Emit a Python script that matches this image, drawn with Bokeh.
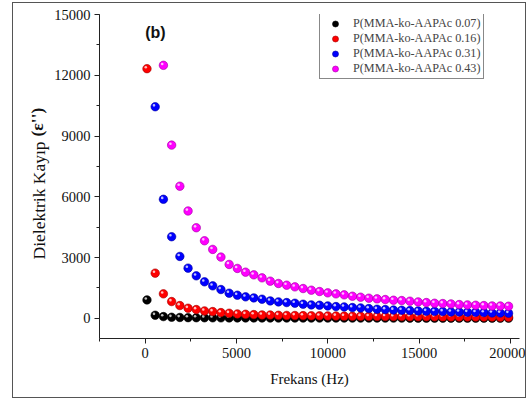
from bokeh.plotting import figure
from bokeh.models import (Range1d, SingleIntervalTicker, Legend, LegendItem, Label, Title)
from bokeh.embed import file_html
from bokeh.resources import INLINE

# ---- data ----
freq = [100 + 450 * i for i in range(45)]  # Hz, 45 evenly spaced measurement points

series_names = ["P(MMA-ko-AAPAc 0.07)", "P(MMA-ko-AAPAc 0.16)",
                "P(MMA-ko-AAPAc 0.31)", "P(MMA-ko-AAPAc 0.43)"]

loss_007 = [907, 148, 82, 50, 38, 30, 26, 23, 21, 19, 18, 17, 16, 15, 14, 13,
            12, 12, 11, 11, 10, 10, 9, 9, 9, 8, 8, 8, 7, 7, 7, 7, 6, 6, 6, 6,
            6, 5, 5, 5, 5, 5, 5, 4, 4]
loss_016 = [12325, 2228, 1204, 825, 627, 495, 429, 363, 330, 280, 248, 214,
            198, 181, 165, 160, 148, 140, 135, 130, 125, 120, 115, 110, 105,
            100, 97, 94, 91, 88, 85, 82, 79, 76, 73, 70, 68, 66, 64, 62, 60,
            58, 56, 54, 52]
# first point(s) of the next two series are off scale -> None
loss_031 = [None, 10445, 5875, 4026, 3053, 2475, 2095, 1798, 1600, 1419, 1237,
            1138, 1056, 1006, 940, 858, 808, 775, 742, 693, 660, 643, 610, 577,
            561, 528, 511, 478, 445, 429, 405, 396, 379, 363, 346, 340, 330,
            313, 310, 297, 292, 280, 264, 260, 248]
loss_043 = [None, None, 12490, 8550, 6520, 5297, 4470, 3827, 3400, 3020, 2657,
            2460, 2277, 2143, 1995, 1832, 1717, 1633, 1550, 1468, 1386, 1320,
            1254, 1204, 1155, 1089, 1040, 990, 957, 924, 891, 874, 842, 808,
            775, 742, 726, 709, 676, 660, 643, 627, 610, 605, 594]

colors = ["#000000", "#ff0000", "#0000ff", "#ff00ff"]
edges = ["#000000", "#a00000", "#0000a0", "#a000a0"]

x_ticks_interval = 5000
y_ticks_interval = 3000

SERIF = "Liberation Serif"

p = figure(width=514, height=396, output_backend="svg", toolbar_location=None,
           x_range=Range1d(-2500, 20500), y_range=Range1d(-1000, 15000),
           min_border_left=86, min_border_right=8, min_border_top=11,
           min_border_bottom=61)
p.margin = (2, 0, 0, 12)
p.styles = {"border": "1px solid #555555"}
p.outline_line_color = None
p.xgrid.grid_line_color = None
p.ygrid.grid_line_color = None
p.background_fill_color = "white"
p.border_fill_color = "white"

FW, FH = 420.0, 324.0  # frame size in px
hz_per_px = 23000 / FW
val_per_px = 16000 / FH

legend_items = []
for name, vals, c, ec in zip(series_names, [loss_007, loss_016, loss_031, loss_043], colors, edges):
    xs = [f for f, v in zip(freq, vals) if v is not None]
    ys = [v for v in vals if v is not None]
    # smaller legend proxy marker, hidden under the real markers
    proxy = p.scatter(xs, ys, size=6.5, fill_color=c, line_color=ec, line_width=0.6)
    p.scatter(xs, ys, size=8.5, fill_color=c, line_color=ec, line_width=0.6)
    hx = [x - 1.2 * hz_per_px for x in xs]
    hy = [y + 1.4 * val_per_px for y in ys]
    p.scatter(hx, hy, size=2.6, fill_color="white", fill_alpha=0.75, line_color=None)
    legend_items.append(LegendItem(label=name, renderers=[proxy]))

for ax in (p.xaxis[0], p.yaxis[0]):
    ax.axis_line_color = "#222222"
    ax.major_tick_line_color = "#222222"
    ax.minor_tick_line_color = "#222222"
    ax.major_tick_out = 5
    ax.major_tick_in = 0
    ax.minor_tick_out = 3
    ax.minor_tick_in = 0
    ax.major_label_text_font = SERIF
    ax.major_label_text_font_size = "14.5px"
    ax.major_label_text_color = "#111111"
    ax.axis_label_text_font = SERIF
    ax.axis_label_text_font_style = "normal"
    ax.axis_label_text_color = "#111111"
    ax.major_label_standoff = 4

p.xaxis[0].ticker = SingleIntervalTicker(interval=x_ticks_interval, num_minor_ticks=2)
p.yaxis[0].ticker = SingleIntervalTicker(interval=y_ticks_interval, num_minor_ticks=2)
p.xaxis[0].axis_label = "Frekans (Hz)"
p.xaxis[0].axis_label_text_font_size = "15px"
p.xaxis[0].axis_label_standoff = 10

# y axis title as side titles (normal part + bold symbol) placed along the axis
p.add_layout(Title(text="Dielektrik Kayıp", align="left", offset=79,
                   standoff=5, text_font=SERIF, text_font_size="17.5px",
                   text_font_style="normal", text_color="#111111"), "left")
p.add_layout(Title(text="(ε'')", align="left", offset=202,
                   standoff=-44, text_font=SERIF, text_font_size="17.5px",
                   text_font_style="bold", text_color="#111111"), "left")

p.add_layout(Label(x=0, y=306, x_units="data", y_units="screen", text="(b)",
                   text_font="Liberation Sans", text_font_size="16px",
                   text_font_style="bold", text_color="#111111",
                   text_align="left", text_baseline="middle"))

legend = Legend(items=legend_items, location=(220, 259))
legend.label_text_font = SERIF
legend.label_text_font_size = "12.2px"
legend.label_height = 15
legend.glyph_height = 15
legend.glyph_width = 26
legend.spacing = 0
legend.padding = 2
legend.margin = 0
legend.label_standoff = 5
legend.border_line_color = "#111111"
legend.border_line_width = 1
legend.background_fill_alpha = 1
p.add_layout(legend)

open("out.html", "w").write(file_html(p, INLINE))
